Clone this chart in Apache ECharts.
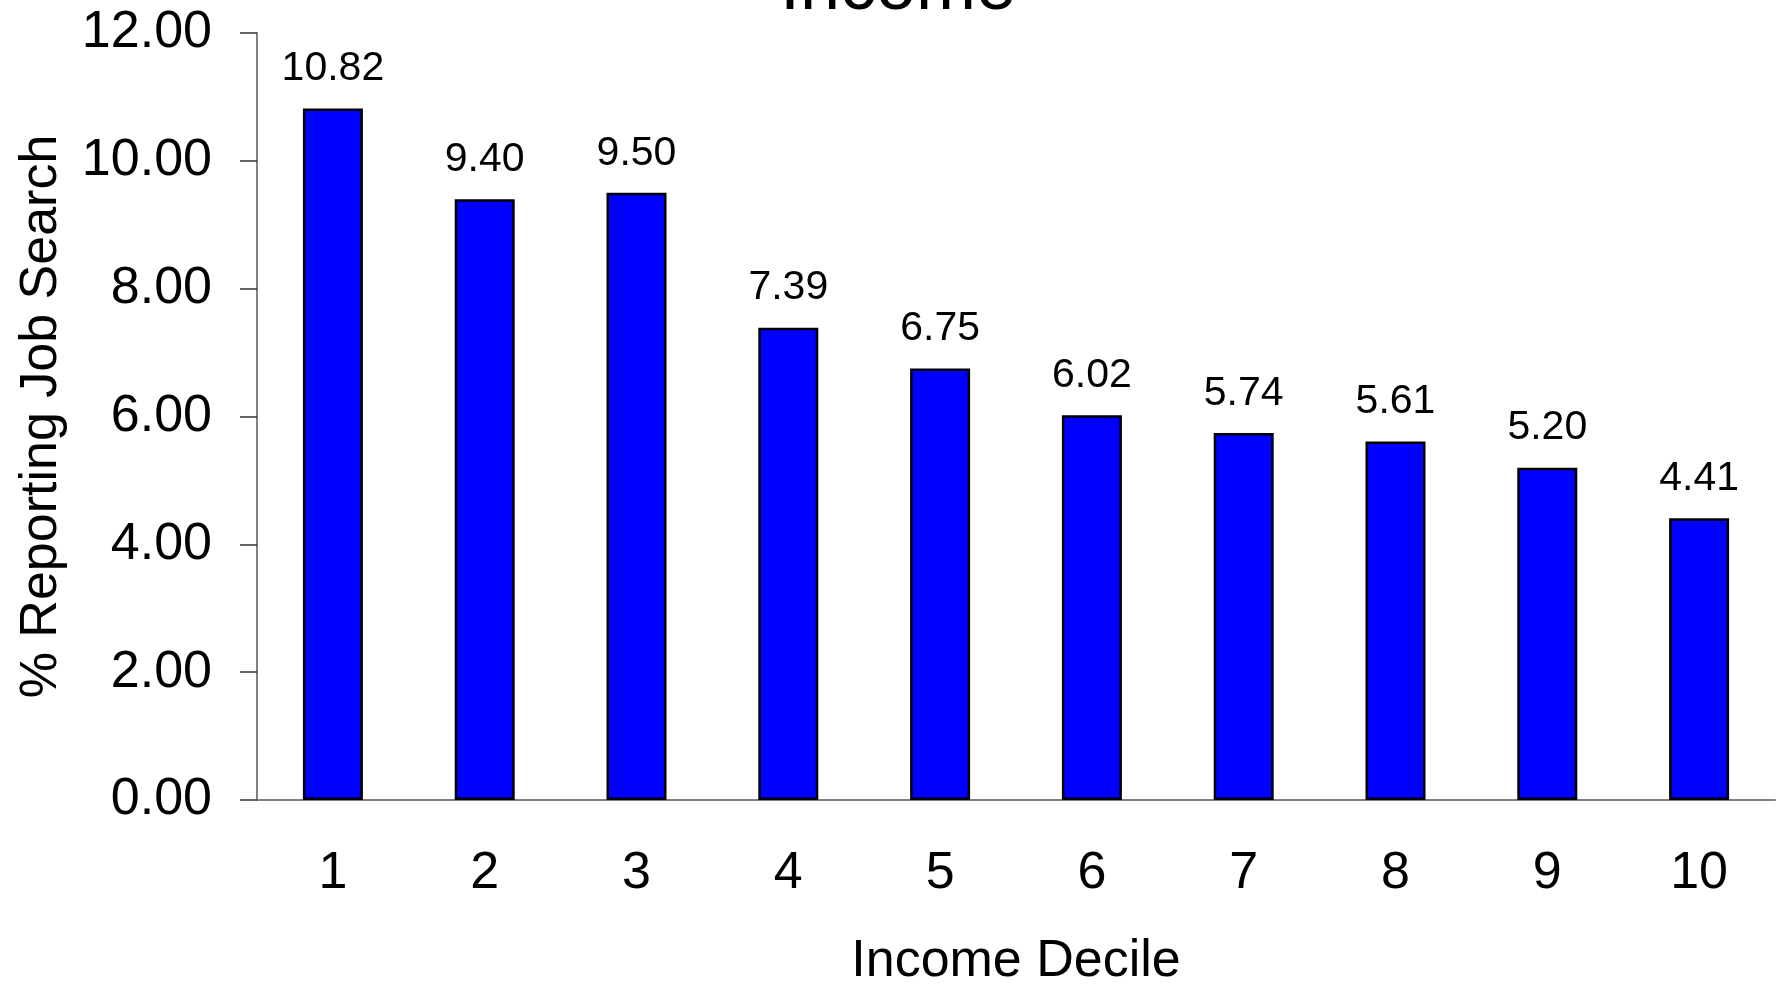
<!DOCTYPE html>
<html>
<head>
<meta charset="utf-8">
<style>
  html, body { margin: 0; padding: 0; background: #fff; }
  #chart { width: 1782px; height: 993px; }
</style>
<script src="https://cdn.jsdelivr.net/npm/echarts@6/dist/echarts.min.js"></script>
</head>
<body>
<div id="chart"></div>
<script>
const deciles = ['1', '2', '3', '4', '5', '6', '7', '8', '9', '10']
const jobSearch = [10.82, 9.40, 9.50, 7.39, 6.75, 6.02, 5.74, 5.61, 5.20, 4.41]
const yTicks = { min: 0, max: 12, interval: 2 }

const font = '"Liberation Sans", Arial, sans-serif'

const chart = echarts.init(document.getElementById('chart'))

const option = {
  animation: false,
  backgroundColor: '#fff',
  title: {
    text: 'Income',
    left: 780,
    top: -47,
    padding: 0,
    textStyle: {
      fontFamily: font,
      fontSize: 72,
      fontWeight: 'normal',
      color: '#000',
    },
  },
  grid: {
    left: 257,
    right: 7,
    top: 33,
    bottom: 188,
  },
  xAxis: {
    type: 'category',
    data: deciles,
    name: 'Income Decile',
    nameLocation: 'middle',
    nameGap: 136,
    nameTextStyle: {
      fontFamily: font,
      fontSize: 52,
      color: '#000',
    },
    axisLine: {
      lineStyle: { color: '#808080', width: 2 },
    },
    axisTick: {
      length: 16,
      lineStyle: { color: '#333', width: 1.5 },
    },
    axisLabel: {
      margin: 48,
      fontFamily: font,
      fontSize: 52,
      color: '#000',
    },
  },
  yAxis: {
    type: 'value',
    min: yTicks.min,
    max: yTicks.max,
    interval: yTicks.interval,
    name: '% Reporting Job Search',
    nameLocation: 'middle',
    nameGap: 189,
    nameTextStyle: {
      fontFamily: font,
      fontSize: 52,
      color: '#000',
    },
    splitLine: { show: false },
    axisLine: {
      show: true,
      lineStyle: { color: '#808080', width: 2 },
    },
    axisTick: {
      show: true,
      length: 17,
      lineStyle: { color: '#333', width: 1.5 },
    },
    axisLabel: {
      margin: 45,
      fontFamily: font,
      fontSize: 52,
      color: '#000',
      formatter: (v) => v.toFixed(2),
    },
  },
  series: [
    {
      type: 'bar',
      data: jobSearch,
      barWidth: 60,
      itemStyle: {
        color: '#0000FF',
        borderColor: '#000',
        borderWidth: 2.5,
      },
      label: {
        show: true,
        position: 'top',
        distance: 19,
        fontFamily: font,
        fontSize: 41,
        color: '#000',
        formatter: (p) => p.value.toFixed(2),
      },
    },
  ],
}

chart.setOption(option)
</script>
</body>
</html>
